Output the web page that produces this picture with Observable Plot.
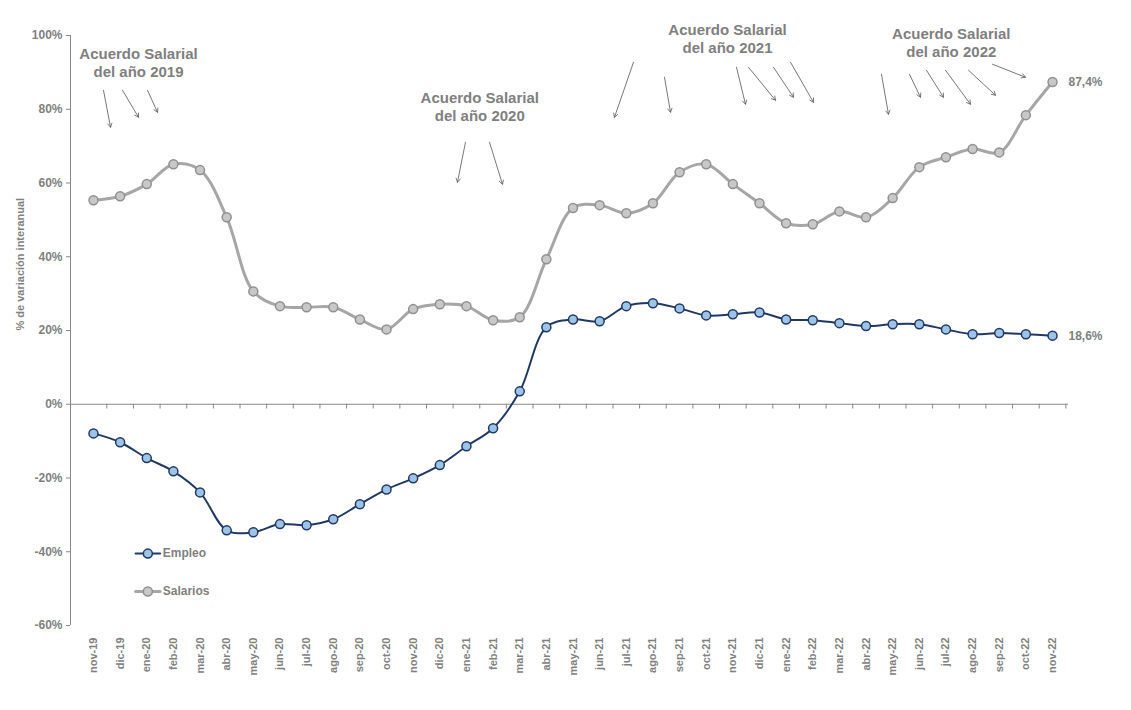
<!DOCTYPE html>
<html><head><meta charset="utf-8">
<script src="https://cdn.jsdelivr.net/npm/d3@7"></script>
<script src="https://cdn.jsdelivr.net/npm/@observablehq/plot@0.6"></script>
<style>body{margin:0;background:#fff;font-family:Arial,"Liberation Sans",sans-serif}</style>
</head><body><div id="c"></div>
<script>
const months = ["nov-19","dic-19","ene-20","feb-20","mar-20","abr-20","may-20","jun-20","jul-20","ago-20","sep-20","oct-20","nov-20","dic-20","ene-21","feb-21","mar-21","abr-21","may-21","jun-21","jul-21","ago-21","sep-21","oct-21","nov-21","dic-21","ene-22","feb-22","mar-22","abr-22","may-22","jun-22","jul-22","ago-22","sep-22","oct-22","nov-22"];
const salarios = [55.3,56.4,59.7,65.1,63.5,50.7,30.6,26.6,26.3,26.3,23.0,20.3,25.8,27.1,26.6,22.8,23.6,39.3,53.2,54.0,51.8,54.5,62.9,65.1,59.7,54.5,49.1,48.8,52.3,50.7,55.9,64.3,67.0,69.2,68.3,78.4,87.4];
const empleo = [-7.9,-10.3,-14.6,-18.2,-23.9,-34.2,-34.7,-32.5,-32.8,-31.2,-27.1,-23.1,-20.1,-16.5,-11.4,-6.5,3.5,20.9,23.0,22.5,26.6,27.4,26.0,24.1,24.4,24.9,23.0,22.8,22.0,21.2,21.7,21.7,20.3,19.0,19.3,19.0,18.6];
const yTicks = [-60,-40,-20,0,20,40,60,80,100];
const notes = [
 {x:1.69,y:92.7,t:"Acuerdo Salarial\ndel año 2019"},
 {x:14.5,y:80.8,t:"Acuerdo Salarial\ndel año 2020"},
 {x:23.8,y:99.3,t:"Acuerdo Salarial\ndel año 2021"},
 {x:32.2,y:98.2,t:"Acuerdo Salarial\ndel año 2022"}];
const arrowsPx = [[103,88,110,125],[122,88,138,115],[147,88,157,110],[465,140,457,180],[489,140,502,182],
 [633,60,614,115],[664,75,670,110],[736,65,745,102],[748,65,775,98],[773,65,793,95],[790,60,813,100],
 [881,72,888,112],[909,72,920,95],[926,68,943,95],[945,68,970,102],[968,68,995,93],[992,62,1025,75]];
const ix = p => (p-93)/26.64, iy = p => (402-p)/3.6875;
const arrows = arrowsPx.map(([a,b,c,d])=>({x1:ix(a),y1:iy(b),x2:ix(c),y2:iy(d)}));
const sD = salarios.map((v,i)=>({i,v})), eD = empleo.map((v,i)=>({i,v}));
const idx = months.map((m,i)=>i);
const X0 = -0.863;
const gray="#7f7f7f";
const plot = Plot.plot({
 width:1131,height:710,marginLeft:70,marginRight:63,marginTop:35,marginBottom:85,
 style:{fontFamily:"Arial, Liberation Sans, sans-serif"},
 x:{type:"linear",domain:[X0,36.6],axis:null},
 y:{type:"linear",domain:[-60,100],axis:null},
 marks:[
  Plot.ruleX([X0],{x:d=>d,stroke:"#888"}),
  Plot.ruleY([0],{y:d=>d,stroke:"#888"}),
  Plot.ruleY(yTicks,{y:d=>d,x1:()=>X0-0.15,x2:()=>X0,stroke:"#888"}),
  Plot.text(yTicks,{x:()=>X0,y:d=>d,text:d=>d+"%",dx:-8,textAnchor:"end",fill:gray,fontWeight:"bold",fontSize:12}),
  Plot.ruleX(idx.map(i=>i+0.5),{x:d=>d,y1:()=>0,y2:()=>-1.3,stroke:"#888"}),
  Plot.text(idx,{x:d=>d,y:()=>-60,text:d=>months[d],rotate:-90,textAnchor:"end",dy:12,fill:gray,fontWeight:"bold",fontSize:11}),
  Plot.text(["% de variación interanual"],{frameAnchor:"left",dx:-50,rotate:-90,fill:gray,fontWeight:"bold",fontSize:11}),
  Plot.line(sD,{x:"i",y:"v",stroke:"#a6a6a6",strokeWidth:3,curve:"catmull-rom"}),
  Plot.dot(sD,{x:"i",y:"v",r:4.5,fill:"#c8c8c8",stroke:"#909090",strokeWidth:1.5}),
  Plot.line(eD,{x:"i",y:"v",stroke:"#1f3864",strokeWidth:2,curve:"catmull-rom"}),
  Plot.dot(eD,{x:"i",y:"v",r:4.5,fill:"#9dc3e6",stroke:"#1f3864",strokeWidth:1.5}),
  Plot.text([sD[36]],{x:"i",y:"v",text:()=>"87,4%",dx:16,textAnchor:"start",fill:gray,fontWeight:"bold",fontSize:12}),
  Plot.text([eD[36]],{x:"i",y:"v",text:()=>"18,6%",dx:16,textAnchor:"start",fill:gray,fontWeight:"bold",fontSize:12}),
  Plot.text(notes,{x:"x",y:"y",text:"t",fill:gray,fontWeight:"bold",fontSize:15,lineHeight:1.2}),
  Plot.arrow(arrows,{x1:"x1",y1:"y1",x2:"x2",y2:"y2",stroke:"#555",strokeWidth:0.8,headLength:8}),
  Plot.line([{x:1.58,y:-40.5},{x:2.5,y:-40.5}],{x:"x",y:"y",stroke:"#1f3864",strokeWidth:2}),
  Plot.dot([{x:2.04,y:-40.5}],{x:"x",y:"y",r:4.5,fill:"#9dc3e6",stroke:"#1f3864",strokeWidth:1.5}),
  Plot.text([{x:2.6,y:-40.5}],{x:"x",y:"y",text:()=>"Empleo",textAnchor:"start",fill:gray,fontWeight:"bold",fontSize:12}),
  Plot.line([{x:1.58,y:-50.8},{x:2.5,y:-50.8}],{x:"x",y:"y",stroke:"#a6a6a6",strokeWidth:3}),
  Plot.dot([{x:2.04,y:-50.8}],{x:"x",y:"y",r:4.5,fill:"#c8c8c8",stroke:"#909090",strokeWidth:1.5}),
  Plot.text([{x:2.6,y:-50.8}],{x:"x",y:"y",text:()=>"Salarios",textAnchor:"start",fill:gray,fontWeight:"bold",fontSize:12})
 ]});
document.getElementById("c").append(plot);
</script></body></html>
